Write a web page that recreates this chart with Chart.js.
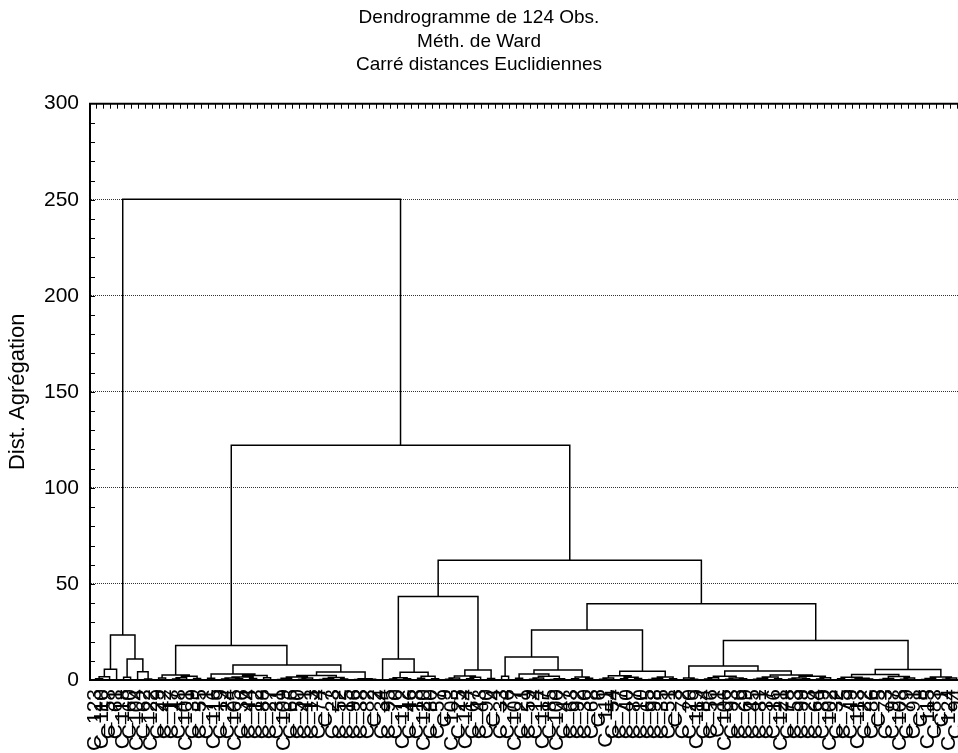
<!DOCTYPE html>
<html>
<head>
<meta charset="utf-8">
<script src="https://cdn.jsdelivr.net/npm/chart.js@4.4.1/dist/chart.umd.min.js"></script>
<style>
  html, body { margin: 0; padding: 0; background: #fff; }
  #wrap { width: 958px; height: 753px; }
</style>
</head>
<body>
<div id="wrap"><canvas id="dendro" width="958" height="753"></canvas></div>
<script>
// Observation names, in the left-to-right order of the dendrogram leaves
const leafLabels = [
  'C_123','C_110','C_58','C_61','C_118','C_60','C_104','C_62','C_122','C_29',
  'C_42','C_17','C_48','C_101','C_39','C_55','C_71','C_116','C_19','C_24',
  'C_105','C_36','C_44','C_12','C_88','C_27','C_31','C_109','C_66','C_50',
  'C_41','C_13','C_74','C_7','C_23','C_52','C_15','C_96','C_38','C_82',
  'C_2','C_34','C_95','C_70','C_112','C_46','C_18','C_120','C_80','C_57',
  'C_9','C_103','C_25','C_114','C_67','C_43','C_90','C_4','C_33','C_76',
  'C_107','C_21','C_59','C_14','C_117','C_85','C_100','C_47','C_63','C_92',
  'C_30','C_68','C_6','C_111','C_54','C_77','C_40','C_87','C_10','C_65',
  'C_98','C_35','C_51','C_3','C_72','C_20','C_119','C_84','C_56','C_11',
  'C_106','C_93','C_26','C_69','C_45','C_81','C_37','C_16','C_121','C_78',
  'C_53','C_99','C_28','C_64','C_89','C_102','C_32','C_75','C_49','C_113',
  'C_22','C_86','C_5','C_73','C_97','C_108','C_79','C_91','C_8','C_115',
  'C_83','C_1','C_124','C_94'
];

// Merges written as [aggregation distance, left, right]; a bare number is a leaf position
const clusterA1 = [5.6, [1.7, [0.6, 0, 1], 2], 3];
const clusterA2 = [10.9, [1.4, 4, 5], [4.3, 6, [0.5, 7, 8]]];
const clusterBLL = [2.6, [1.1, 9, 10], [1.9, [1.2, [0.5, 11, 12], 13], [0.8, 14, 15]]];
const clusterBLRa = [3.1, [0.9, 16, 17], [2.4, [1.6, [1.0, [0.5, 18, 19], [0.7, 20, 21]], [0.8, 22, 23]], [1.2, 24, 25]]];
const clusterBLRb1 = [1.5, [0.9, [0.3, 26, 27], 28], [1.1, [0.4, 29, 30], 31]];
const clusterBLRb2 = [1.3, [0.8, [0.3, 32, 33], 34], [0.5, 35, 36]];
const clusterBLRb3 = [0.6, [0.3, 37, 38], [0.4, 39, 40]];
const clusterBRLa = [10.9, 41, [4.0, [1.2, [0.5, 42, 43], [0.7, 44, 45]], [2.0, [0.9, 46, 47], [0.6, 48, 49]]]];
const clusterBRLb = [5.2, [2.1, [1.0, [0.4, 50, 51], 52], [1.4, [0.6, 53, 54], 55]], [0.8, 56, 57]];
const clusterBRRLa = [12.0, [1.9, 58, 59], [5.2, [3.1, [0.9, 60, 61], [2.0, [1.1, [0.4, 62, 63], 64], [0.6, [0.3, 65, 66], 67]]], [1.5, [0.6, 68, 69], [0.9, 70, 71]]]];
const clusterBRRLb = [4.5, [2.2, [1.0, [0.4, 72, 73], 74], [1.4, [0.6, 75, 76], [0.8, 77, 78]]], [1.6, [0.9, [0.3, 79, 80], 81], [0.6, 82, 83]]];
const clusterBRRRa = [7.3, [1.0, 84, [0.4, 85, 86]], [4.7, [2.0, [1.2, [0.5, 87, 88], 89], [1.0, [0.4, 90, 91], [0.6, 92, 93]]], [2.6, [1.5, [0.9, [0.4, 94, 95], 96], [0.7, 97, 98]], [1.9, [1.0, [0.5, 99, 100], [0.6, 101, 102]], [1.2, [0.5, 103, 104], 105]]]]];
const clusterBRRRb1 = [2.8, [1.4, [0.6, 106, 107], [0.9, [0.3, 108, 109], [0.5, 110, 111]]], [1.8, [0.8, [0.3, 112, 113], 114], [1.1, [0.4, 115, 116], 117]]];
const clusterBRRRb2 = [1.6, [0.8, [0.3, 118, 119], 120], [1.0, [0.4, 121, 122], 123]];

// Upper levels of the hierarchy
const groupA = [23.4, clusterA1, clusterA2];
const groupBL = [18.0, clusterBLL, [7.8, clusterBLRa, [4.2, [2.4, clusterBLRb1, clusterBLRb2], clusterBLRb3]]];
const groupBRL = [43.5, clusterBRLa, clusterBRLb];
const groupBRR = [39.7, [26.0, clusterBRRLa, clusterBRRLb], [20.6, clusterBRRRa, [5.5, clusterBRRRb1, clusterBRRRb2]]];
const rootMerge = [250.2, groupA, [122.2, groupBL, [62.4, groupBRL, groupBRR]]];

const titleLines = ['Dendrogramme de 124 Obs.', 'Méth. de Ward', 'Carré distances Euclidiennes'];
const yAxisTitle = 'Dist. Agrégation';

// Turn each merge into a bracket: up from the left child, across, down to the right child
function bracketPoints(node, out) {
  if (typeof node === 'number') return { x: node, h: 0 };
  const [h, a, b] = node;
  const L = bracketPoints(a, out);
  const R = bracketPoints(b, out);
  out.push({ x: L.x, y: L.h }, { x: L.x, y: h }, { x: R.x, y: h }, { x: R.x, y: R.h }, { x: R.x, y: null });
  return { x: (L.x + R.x) / 2, h };
}
const brackets = [];
bracketPoints(rootMerge, brackets);

const FONT = '"Liberation Sans", Arial, Helvetica, sans-serif';
Chart.defaults.font.family = FONT;
Chart.defaults.color = '#000';

// Top frame line with inward ticks at every leaf, and inward minor ticks on the value axis
const frameMarks = {
  id: 'frameMarks',
  afterDraw(chart) {
    const { ctx, chartArea: a, scales: { x, y } } = chart;
    ctx.save();
    ctx.strokeStyle = '#000';
    ctx.lineWidth = 2;
    ctx.beginPath();
    ctx.moveTo(a.left - 1, a.top);
    ctx.lineTo(a.right, a.top);
    ctx.stroke();
    ctx.lineWidth = 1;
    ctx.beginPath();
    leafLabels.forEach((_, i) => {
      const px = Math.round(x.getPixelForValue(i)) + 0.5;
      ctx.moveTo(px, a.top);
      ctx.lineTo(px, a.top + 5);
    });
    for (let v = 10; v < 300; v += 10) {
      const py = Math.round(y.getPixelForValue(v)) + 0.5;
      ctx.moveTo(a.left, py);
      ctx.lineTo(a.left + 5, py);
    }
    ctx.stroke();
    ctx.restore();
  }
};

new Chart(document.getElementById('dendro'), {
  type: 'line',
  data: {
    datasets: [{
      data: brackets,
      borderColor: '#000',
      borderWidth: 1.5,
      pointRadius: 0,
      pointHoverRadius: 0,
      tension: 0,
      fill: false,
      spanGaps: false,
      clip: 4
    }]
  },
  plugins: [frameMarks],
  options: {
    responsive: false,
    animation: false,
    events: [],
    layout: { padding: 0 },
    plugins: {
      legend: { display: false },
      tooltip: { enabled: false },
      title: {
        display: true,
        text: titleLines,
        color: '#000',
        font: { family: FONT, size: 19, weight: 'normal', lineHeight: 1.24 },
        padding: { top: 6, bottom: 27 }
      }
    },
    scales: {
      x: {
        type: 'linear',
        min: -0.8,
        max: 123.2,
        afterBuildTicks: (axis) => { axis.ticks = leafLabels.map((_, i) => ({ value: i })); },
        afterFit: (axis) => { axis.height = 73; axis.paddingLeft = 0; axis.paddingRight = 0; },
        grid: { display: false, drawTicks: false },
        border: { display: true, color: '#000', width: 2 },
        ticks: {
          autoSkip: false,
          maxRotation: 90,
          minRotation: 90,
          padding: 9,
          color: '#000',
          font: { family: FONT, size: 21 },
          callback: (v) => leafLabels[v]
        }
      },
      y: {
        min: 0,
        max: 300,
        afterFit: (axis) => { axis.width = 90; axis.paddingTop = 0; axis.paddingBottom = 0; },
        grid: {
          drawTicks: false,
          lineWidth: 1,
          color: (c) => (c.tick && c.tick.value > 0 && c.tick.value < 300) ? '#333' : 'rgba(0,0,0,0)'
        },
        border: { display: true, color: '#000', width: 2, dash: [1, 1] },
        ticks: {
          stepSize: 50,
          padding: 11,
          color: '#000',
          font: { family: FONT, size: 21 }
        },
        title: {
          display: true,
          text: yAxisTitle,
          color: '#000',
          font: { family: FONT, size: 22 },
          padding: { top: 5, bottom: 0 }
        }
      }
    }
  }
});
</script>
</body>
</html>
